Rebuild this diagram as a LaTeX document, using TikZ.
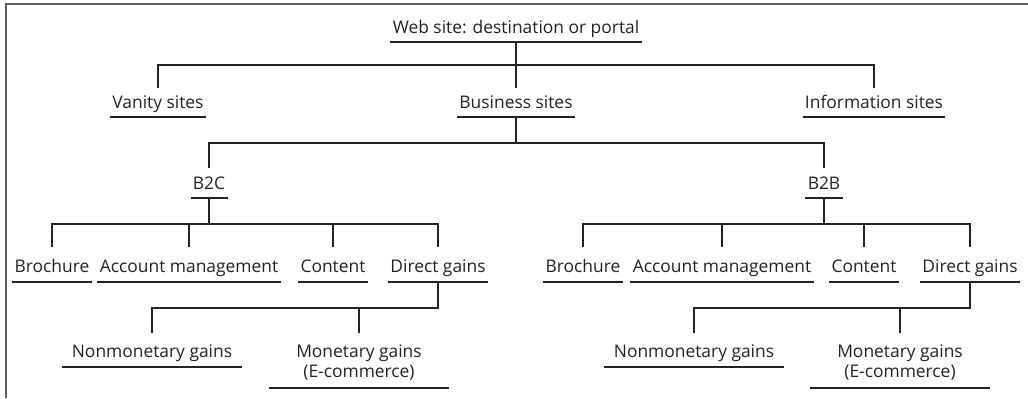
\documentclass[tikz,border=0pt]{standalone}
\usepackage{fontspec}
\setmainfont{Open Sans}
\usetikzlibrary{positioning}
\definecolor{framegray}{RGB}{95,95,95}
\definecolor{inkgray}{RGB}{35,35,35}
\tikzset{
  lbl/.style={anchor=south, inner xsep=1pt, inner ysep=0pt, text=inkgray, font=\fontsize{8.7}{10}\selectfont, text height=10pt, text depth=4pt},
  leaf/.style={lbl, text height=12.5pt, text depth=4.5pt},
  gain/.style={leaf, minimum width=90pt, text height=12pt},
  ln/.style={line width=1pt, inkgray},
}

\begin{document}
\begin{tikzpicture}[x=0.5pt,y=-0.5pt]
\useasboundingbox (0,0) rectangle (1028,398);
\draw[framegray, line width=0.8pt] (6,398) -- (6,4) -- (1028,4);

\node[lbl] (root) at (516,42) {Web site: destination or portal};

\node[lbl] (vanity) at (158,117) {Vanity sites};
\node[lbl] (business) at (516,117) {Business sites};
\node[lbl] (info) at (874,117) {Information sites};

\node[lbl, text height=10.5pt] (b2c) at (209,198) {B2C};
\node[lbl, text height=10.5pt] (b2b) at (824,198) {B2B};

\node[leaf] (bro1) at (52,282) {Brochure};
\node[leaf] (acc1) at (189,282) {Account management};
\node[leaf] (con1) at (333,282) {Content};
\node[leaf] (dir1) at (438,282) {Direct gains};

\node[leaf] (bro2) at (583,282) {Brochure};
\node[leaf] (acc2) at (722,282) {Account management};
\node[leaf] (con2) at (864,282) {Content};
\node[leaf] (dir2) at (970,282) {Direct gains};

\node[gain] (non1) at (152,367) {Nonmonetary gains};
\node[gain, align=center, text height=22pt, text depth=5pt] (mon1) at (359,388) {Monetary gains\\(E-commerce)};
\node[gain] (non2) at (694,367) {Nonmonetary gains};
\node[gain, align=center, text height=22pt, text depth=5pt] (mon2) at (900,388) {Monetary gains\\(E-commerce)};

% underlines
\foreach \n in {root,vanity,business,info,b2c,b2b,bro1,acc1,con1,dir1,bro2,acc2,con2,dir2,non1,mon1,non2,mon2}
  \draw[ln] (\n.south west) -- (\n.south east);

% tree
\draw[ln] (root.south) -- (business.north);
\foreach \c in {vanity,info}
  \draw[ln] (root.south) -- ++(0,23) -| (\c.north);
\foreach \c in {b2c,b2b}
  \draw[ln] (business.south) -- ++(0,26) -| (\c.north);
\foreach \c in {bro1,acc1,con1,dir1}
  \draw[ln] (b2c.south) -- ++(0,26) -| (\c.north);
\foreach \c in {bro2,acc2,con2,dir2}
  \draw[ln] (b2b.south) -- ++(0,26) -| (\c.north);
\foreach \c in {non1,mon1}
  \draw[ln] (dir1.south) -- ++(0,26) -| (\c.north);
\foreach \c in {non2,mon2}
  \draw[ln] (dir2.south) -- ++(0,26) -| (\c.north);
\end{tikzpicture}
\end{document}
